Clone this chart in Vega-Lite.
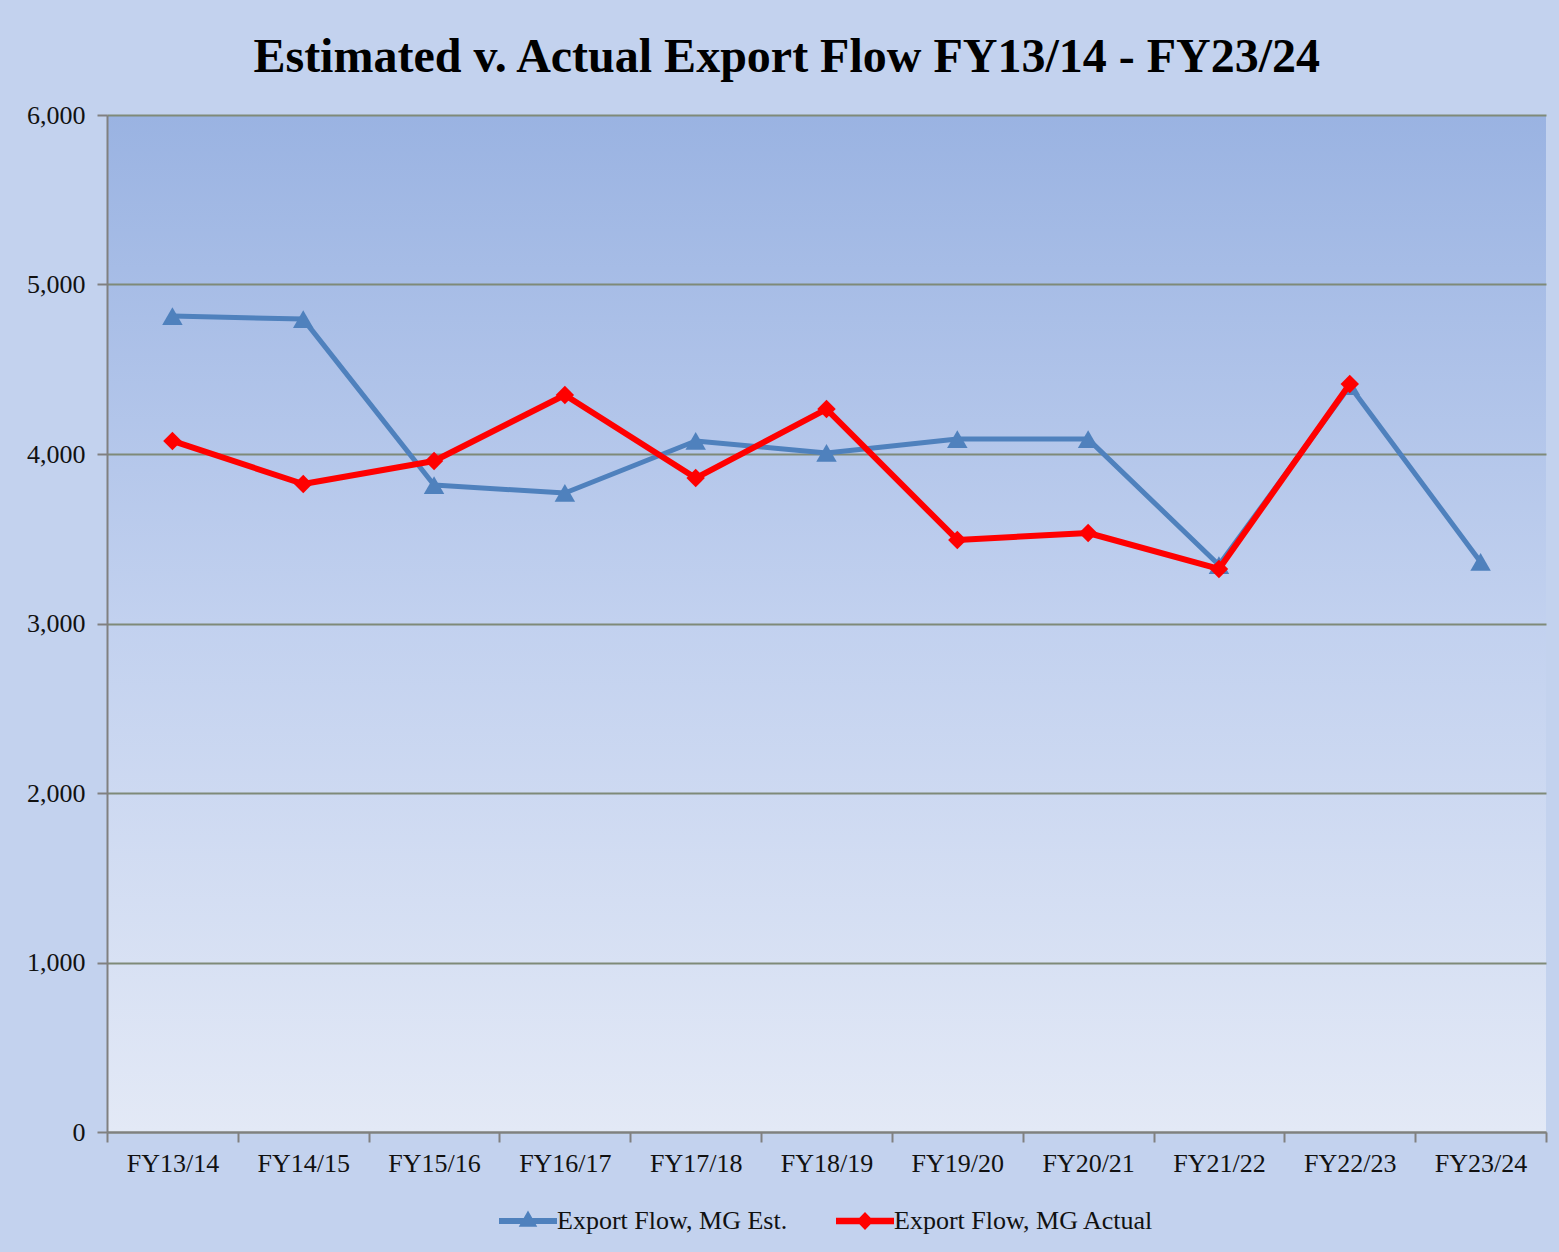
{
  "$schema": "https://vega.github.io/schema/vega-lite/v6.json",
  "autosize": {"type": "fit", "contains": "padding"},
  "width": 1559,
  "height": 1252,
  "padding": {"left": 26, "top": 34, "right": 12, "bottom": 18},
  "background": "#c3d2ee",
  "title": {
    "text": "Estimated v. Actual Export Flow FY13/14 - FY23/24",
    "font": "Liberation Serif",
    "fontSize": 48,
    "fontWeight": "bold",
    "color": "#000000",
    "offset": 20,
    "anchor": "middle",
    "frame": "bounds"
  },
  "data": {
    "values": [
      {"fy": "FY13/14", "series": "Export Flow, MG Est.", "value": 4814},
      {"fy": "FY14/15", "series": "Export Flow, MG Est.", "value": 4796},
      {"fy": "FY15/16", "series": "Export Flow, MG Est.", "value": 3817},
      {"fy": "FY16/17", "series": "Export Flow, MG Est.", "value": 3770},
      {"fy": "FY17/18", "series": "Export Flow, MG Est.", "value": 4077},
      {"fy": "FY18/19", "series": "Export Flow, MG Est.", "value": 4006},
      {"fy": "FY19/20", "series": "Export Flow, MG Est.", "value": 4088},
      {"fy": "FY20/21", "series": "Export Flow, MG Est.", "value": 4088},
      {"fy": "FY21/22", "series": "Export Flow, MG Est.", "value": 3345},
      {"fy": "FY22/23", "series": "Export Flow, MG Est.", "value": 4401},
      {"fy": "FY23/24", "series": "Export Flow, MG Est.", "value": 3363},
      {"fy": "FY13/14", "series": "Export Flow, MG Actual", "value": 4077},
      {"fy": "FY14/15", "series": "Export Flow, MG Actual", "value": 3823},
      {"fy": "FY15/16", "series": "Export Flow, MG Actual", "value": 3959},
      {"fy": "FY16/17", "series": "Export Flow, MG Actual", "value": 4348},
      {"fy": "FY17/18", "series": "Export Flow, MG Actual", "value": 3858},
      {"fy": "FY18/19", "series": "Export Flow, MG Actual", "value": 4265},
      {"fy": "FY19/20", "series": "Export Flow, MG Actual", "value": 3493},
      {"fy": "FY20/21", "series": "Export Flow, MG Actual", "value": 3534},
      {"fy": "FY21/22", "series": "Export Flow, MG Actual", "value": 3322},
      {"fy": "FY22/23", "series": "Export Flow, MG Actual", "value": 4413}
    ]
  },
  "encoding": {
    "x": {
      "field": "fy",
      "type": "ordinal",
      "sort": null,
      "scale": {"type": "band", "paddingInner": 0, "paddingOuter": 0},
      "axis": {
        "title": null,
        "labelAngle": 0,
        "labelFont": "Liberation Serif",
        "labelFontSize": 26,
        "labelColor": "#111111",
        "labelPadding": 8,
        "tickBand": "extent",
        "tickSize": 10,
        "tickColor": "#808080",
        "tickWidth": 2,
        "domainColor": "#808080",
        "domainWidth": 2,
        "grid": false
      }
    },
    "y": {
      "field": "value",
      "type": "quantitative",
      "scale": {"domain": [0, 6000], "nice": false},
      "axis": {
        "title": null,
        "values": [0, 1000, 2000, 3000, 4000, 5000, 6000],
        "format": ",.0f",
        "labelFont": "Liberation Serif",
        "labelFontSize": 26,
        "labelColor": "#111111",
        "labelPadding": 12,
        "tickSize": 10,
        "tickColor": "#808080",
        "tickWidth": 2,
        "domainColor": "#808080",
        "domainWidth": 2,
        "grid": true,
        "gridColor": "#7f8a78",
        "gridWidth": 2
      }
    },
    "color": {
      "field": "series",
      "type": "nominal",
      "scale": {
        "domain": ["Export Flow, MG Est.", "Export Flow, MG Actual"],
        "range": ["#4f81bd", "#ff0000"]
      },
      "legend": {
        "title": null,
        "orient": "bottom",
        "direction": "horizontal",
        "offset": 16,
        "labelFont": "Liberation Serif",
        "labelFontSize": 26,
        "labelColor": "#111111",
        "labelOffset": 0,
        "labelLimit": 0,
        "columnPadding": 48,
        "symbolSize": 3364,
        "symbolStrokeWidth": 0,
        "encode": {
          "symbols": {
            "update": {
              "shape": {"signal": "datum.value === 'Export Flow, MG Est.' ? 'M-1,-0.1L1,-0.1L1,0.1L-1,0.1Z M0,-0.36L0.32,0.2L-0.32,0.2Z' : 'M-1,-0.11L1,-0.11L1,0.11L-1,0.11Z M0,-0.31L0.3,0L0,0.31L-0.3,0Z'"},
              "fill": {"signal": "scale('color', datum.value)"},
              "fillOpacity": {"value": 1},
              "strokeWidth": {"value": 0}
            }
          }
        }
      }
    }
  },
  "layer": [
    {
      "transform": [{"filter": "datum.series === 'Export Flow, MG Est.'"}],
      "mark": {"type": "line", "strokeWidth": 5, "strokeJoin": "round"}
    },
    {
      "transform": [{"filter": "datum.series === 'Export Flow, MG Est.'"}],
      "mark": {"type": "point", "shape": "triangle-up", "filled": true, "size": 420, "opacity": 1}
    },
    {
      "transform": [{"filter": "datum.series === 'Export Flow, MG Actual'"}],
      "mark": {"type": "line", "strokeWidth": 6, "strokeJoin": "round"}
    },
    {
      "transform": [{"filter": "datum.series === 'Export Flow, MG Actual'"}],
      "mark": {"type": "point", "shape": "diamond", "filled": true, "size": 340, "opacity": 1}
    }
  ],
  "config": {
    "legend": {"layout": {"bottom": {"anchor": "middle", "bounds": "full"}}},
    "view": {
      "stroke": null,
      "fill": {
        "gradient": "linear",
        "x1": 0, "y1": 0, "x2": 0, "y2": 1,
        "stops": [
          {"offset": 0, "color": "#9ab3e2"},
          {"offset": 0.5, "color": "#c2d1ef"},
          {"offset": 1, "color": "#e3e9f6"}
        ]
      }
    }
  }
}
